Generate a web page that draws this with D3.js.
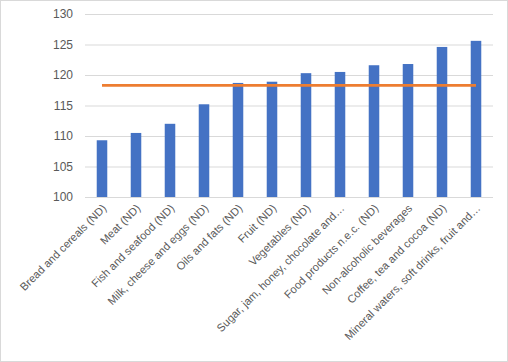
<!DOCTYPE html>
<html><head><meta charset="utf-8">
<script src="https://cdn.jsdelivr.net/npm/d3@7"></script>
<style>html,body{margin:0;padding:0;background:#fff;}svg{display:block;}</style>
</head><body>
<script>
const categories = ["Bread and cereals (ND)","Meat (ND)","Fish and seafood (ND)","Milk, cheese and eggs (ND)","Oils and fats (ND)","Fruit (ND)","Vegetables (ND)","Sugar, jam, honey, chocolate and…","Food products n.e.c. (ND)","Non-alcoholic beverages","Coffee, tea and cocoa (ND)","Mineral waters, soft drinks, fruit and…"];
const values = [109.3,110.5,112.0,115.2,118.7,118.9,120.3,120.5,121.6,121.8,124.6,125.6];
const averageValue = 118.3;
const yTicks = [100,105,110,115,120,125,130];

(function(){
const W=508,H=362;
const svg=d3.select("body").append("svg").attr("width",W).attr("height",H);
svg.append("rect").attr("x",0.5).attr("y",0.5).attr("width",W-1).attr("height",H-1).attr("fill","#fff").attr("stroke","#d9d9d9");

const mL=85,mR=493,mT=14,mB=197;
const x=d3.scaleBand().domain(categories).range([mL,mR]).paddingInner(0.69).paddingOuter(0.345);
const xc=d3.scaleBand().domain(categories).range([mL,mR]);
const y=d3.scaleLinear().domain([100,130]).range([mB,mT]);

const font="'Liberation Sans', Arial, sans-serif";
const gy=svg.append("g").attr("transform",`translate(${mL},0)`)
  .call(d3.axisLeft(y).tickValues(yTicks).tickSize(-(mR-mL)).tickPadding(12));
gy.select(".domain").remove();
gy.selectAll(".tick line").attr("stroke","#d9d9d9");
gy.selectAll(".tick text").attr("fill","#595959").style("font-family",font).style("font-size","12px");

svg.append("g").selectAll("rect").data(values).join("rect")
  .attr("x",(d,i)=>x(categories[i])).attr("width",x.bandwidth())
  .attr("y",d=>y(d)).attr("height",d=>y(100)-y(d)).attr("fill","#4472c4");

svg.append("line")
  .attr("x1",xc(categories[0])+xc.bandwidth()/2).attr("x2",xc(categories[categories.length-1])+xc.bandwidth()/2)
  .attr("y1",y(averageValue)).attr("y2",y(averageValue))
  .attr("stroke","#ed7d31").attr("stroke-width",2.75);

const gx=svg.append("g").attr("transform",`translate(0,${mB})`)
  .call(d3.axisBottom(xc).tickSize(0).tickPadding(0));
gx.select(".domain").remove();
gx.selectAll(".tick text")
  .attr("fill","#595959").style("font-family",font).style("font-size","11.1px")
  .attr("text-anchor","end").attr("dy",null).attr("y",0)
  .attr("transform","translate(5,12) rotate(-45)");
})();
</script>
</body></html>
